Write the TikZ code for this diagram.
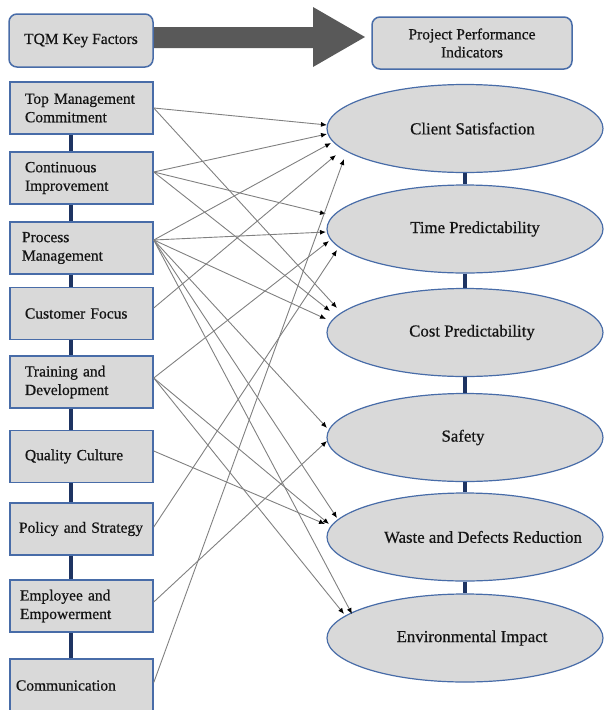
\documentclass[tikz,border=0pt]{standalone}
\usepackage{fontspec}
\setmainfont{Liberation Serif}[FakeBold=0.6]
\usetikzlibrary{arrows.meta,calc,shapes.geometric}
\definecolor{boxgray}{RGB}{217,217,217}
\definecolor{boxblue}{RGB}{72,108,168}
\definecolor{navy}{RGB}{30,52,98}
\definecolor{linkgray}{RGB}{128,128,128}
\definecolor{bigarrow}{RGB}{89,89,89}
\definecolor{txt}{RGB}{20,20,20}
\begin{document}
\begin{tikzpicture}[x=1pt,y=-1pt,
  font=\fontsize{15.5}{18.5}\selectfont,
  lbox/.style={rectangle, draw=boxblue, line width=1.5pt, fill=boxgray, minimum width=143pt, minimum height=52pt, align=left, text=txt, inner ysep=0pt},
  hbox/.style={rectangle, rounded corners=8pt, draw=boxblue, line width=1.5pt, fill=boxgray, minimum height=53pt, align=center, text=txt},
  ebox/.style={ellipse, draw=boxblue, line width=1.2pt, fill=boxgray, minimum width=276pt, minimum height=88pt, inner sep=0pt, text=txt, font=\fontsize{16.8}{19}\selectfont},
  spine/.style={draw=navy, line width=4.5pt},
  link/.style={draw=linkgray, line width=0.9pt, -{Latex[length=6pt,width=5pt,color=black]}},
]
\useasboundingbox (0,0) rectangle (605,710);

% header
\fill[bigarrow] (153,27) -- (313,27) -- (313,7) -- (365,37) -- (313,67) -- (313,48) -- (153,48) -- cycle;
\node[hbox, minimum width=144pt] (tqm) at (81,40.5) {TQM Key Factors};
\node[hbox, minimum width=200pt, minimum height=52pt] (ppi) at (472,43) {\raisebox{-3pt}{\shortstack{Project Performance\\[1pt]Indicators}}};

% left column
\node[lbox, inner xsep=15pt, text width=113pt] (tmc) at (81.5,108) {Top Management\\Commitment};
\node[lbox, inner xsep=15pt, text width=113pt] (ci) at (81.5,178) {Continuous\\Improvement};
\node[lbox, inner xsep=12pt, text width=119pt] (pm) at (81.5,248) {Process\\Management};
\node[lbox, inner xsep=15pt, text width=113pt] (cf) at (81.5,313.5) {Customer Focus};
\node[lbox, inner xsep=15pt, text width=113pt] (td) at (81.5,382) {Training and\\Development};
\node[lbox, inner xsep=15pt, text width=113pt] (qc) at (81.5,456.5) {Quality Culture};
\node[lbox, inner xsep=9pt, text width=125pt] (ps) at (81.5,529) {Policy and Strategy};
\node[lbox, inner xsep=10pt, text width=123pt] (ee) at (81.5,606) {Employee and\\Empowerment};
\node[lbox, inner xsep=6pt, text width=131pt, minimum height=53pt] (cm) at (81.5,685.5) {Communication};

\foreach \a/\b in {tmc/ci, ci/pm, pm/cf, cf/td, td/qc, qc/ps, ps/ee, ee/cm}
  \draw[spine] ([xshift=-10.5pt]\a.south) -- ([xshift=-10.5pt]\b.north);

% right column
\node[ebox] (cs) at (465,128.5) {\makebox[0pt]{\hspace*{15pt}Client Satisfaction}};
\node[ebox] (tp) at (465,229) {\makebox[0pt]{\hspace*{20pt}Time Predictability}};
\node[ebox] (co) at (465,332.5) {\makebox[0pt]{\hspace*{14pt}Cost Predictability}};
\node[ebox] (sa) at (465,437.5) {\makebox[0pt]{\hspace*{-4pt}Safety}};
\node[ebox] (wa) at (465,537) {\makebox[0pt]{\hspace*{36pt}Waste and Defects Reduction}};
\node[ebox] (en) at (465,638) {\makebox[0pt]{\hspace*{14pt}Environmental Impact}};

\foreach \a/\b in {cs/tp, tp/co, co/sa, sa/wa, wa/en}
  \draw[spine] (\a.south) -- (\b.north);

% arrow end points
\coordinate (cs1) at ([shift={(-138,-3.5)}]cs.center);
\coordinate (cs2) at ([shift={(-138,5.5)}]cs.center);
\coordinate (cs3) at ([shift={(-134,14.5)}]cs.center);
\coordinate (cs4) at ([shift={(-129,26.5)}]cs.center);
\coordinate (cs5) at ([shift={(-121,30.5)}]cs.center);
\coordinate (tp1) at ([shift={(-139,-15)}]tp.center);
\coordinate (tp2) at ([shift={(-139,3)}]tp.center);
\coordinate (tp3) at ([shift={(-136,12)}]tp.center);
\coordinate (tp4) at ([shift={(-128,21)}]tp.center);
\coordinate (co1) at ([shift={(-128,-24.5)}]co.center);
\coordinate (co2) at ([shift={(-135,-21.5)}]co.center);
\coordinate (co3) at ([shift={(-139,-13.5)}]co.center);
\coordinate (sa1) at ([shift={(-138,-9.5)}]sa.center);
\coordinate (sa2) at ([shift={(-138,3.5)}]sa.center);
\coordinate (wa1) at ([shift={(-128,-19)}]wa.center);
\coordinate (wa2) at ([shift={(-136,-13)}]wa.center);
\coordinate (wa3) at ([shift={(-140,-13)}]wa.center);
\coordinate (en1) at ([shift={(-121,-24)}]en.center);
\coordinate (en2) at ([shift={(-113,-24)}]en.center);

% links
\draw[link] (tmc.east) -- (cs1);
\draw[link] (tmc.east) -- (co1);
\draw[link] ([yshift=6pt]ci.east) -- (cs2);
\draw[link] ([yshift=6pt]ci.east) -- (tp1);
\draw[link] ([yshift=6pt]ci.east) -- (co2);
\draw[link] ([yshift=8pt]pm.east) -- (cs3);
\draw[link] ([yshift=8pt]pm.east) -- (tp2);
\draw[link] ([yshift=8pt]pm.east) -- (co3);
\draw[link] ([yshift=8pt]pm.east) -- (sa1);
\draw[link] ([yshift=8pt]pm.east) -- (wa1);
\draw[link] ([yshift=8pt]pm.east) -- (en2);
\draw[link] ([yshift=5.5pt]cf.east) -- (cs4);
\draw[link] ([yshift=4pt]td.east) -- (tp3);
\draw[link] ([yshift=4pt]td.east) -- (wa2);
\draw[link] ([yshift=4pt]td.east) -- (en1);
\draw[link] ([yshift=5.5pt]qc.east) -- (wa3);
\draw[link] ([yshift=2pt]ps.east) -- (tp4);
\draw[link] ([yshift=4pt]ee.east) -- (sa2);
\draw[link] ([yshift=3pt]cm.east) -- (cs5);
\end{tikzpicture}
\end{document}
